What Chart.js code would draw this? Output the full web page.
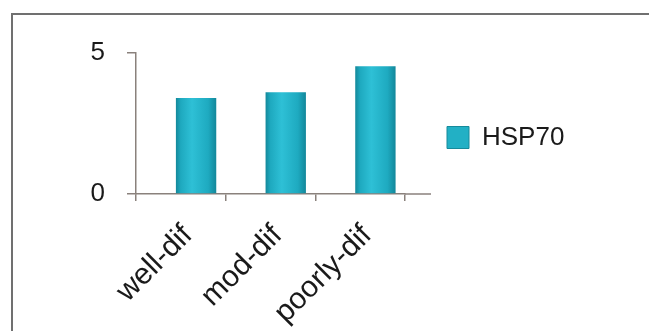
<!DOCTYPE html>
<html>
<head>
<meta charset="utf-8">
<script src="https://cdn.jsdelivr.net/npm/chart.js@4/dist/chart.umd.min.js"></script>
<style>
  html, body { margin: 0; padding: 0; background: #ffffff; }
  #wrap { position: relative; width: 649px; height: 331px; overflow: hidden; }
  #frame { position: absolute; left: 11px; top: 13px; width: 660px; height: 340px;
           border-top: 2px solid #707070; border-left: 2px solid #707070; }
  canvas { position: absolute; left: 0; top: 0; }
</style>
</head>
<body>
<div id="wrap">
  <div id="frame"></div>
  <canvas id="c" width="649" height="331"></canvas>
</div>
<script>
const categories = ['well-dif', 'mod-dif', 'poorly-dif'];
const seriesName = 'HSP70';
const hsp70Values = [3.40, 3.61, 4.53];
const yTickValues = [0, 5];

const axisColor = '#8a817c';
const fontFamily = '"Liberation Sans", Arial, sans-serif';
const barShiftFraction = 0.17; // bars sit right of the category centre in the original

const barShade = {
  id: 'barShade',
  beforeDatasetsDraw(chart) {
    const ctx = chart.ctx;
    const xs = chart.scales.x;
    const dx = barShiftFraction * xs.width / categories.length;
    ctx.save();
    ctx.translate(dx, 0);
    chart.getDatasetMeta(0).data.forEach(el => {
      const x0 = el.x - el.width / 2;
      const g = ctx.createLinearGradient(x0, 0, x0 + el.width, 0);
      g.addColorStop(0, '#13889a');
      g.addColorStop(0.12, '#1ea9bf');
      g.addColorStop(0.4, '#2ec0d6');
      g.addColorStop(0.8, '#1eaac0');
      g.addColorStop(1, '#13879a');
      el.options = Object.assign({}, el.options, { backgroundColor: g });
    });
  },
  afterDatasetsDraw(chart) {
    chart.ctx.restore();
  }
};

const axisExtend = {
  id: 'axisExtend',
  afterDraw(chart) {
    const a = chart.chartArea, ctx = chart.ctx;
    ctx.save();
    ctx.strokeStyle = axisColor;
    ctx.lineWidth = 1.5;
    ctx.beginPath();
    ctx.moveTo(a.right, a.bottom);
    ctx.lineTo(a.right + 26, a.bottom);
    ctx.stroke();
    ctx.restore();
  }
};

const legendShift = {
  id: 'legendShift',
  afterLayout(chart) {
    const lg = chart.legend;
    if (!lg) return;
    const dx = 447 - (lg.left + 10);
    const dy = 14;
    lg.left += dx; lg.right += dx;
    lg.top += dy; lg.bottom += dy;
  }
};

new Chart(document.getElementById('c'), {
  type: 'bar',
  data: {
    labels: categories,
    datasets: [{
      label: seriesName,
      data: hsp70Values,
      backgroundColor: '#22b0c5',
      borderColor: '#168a9b',
      borderWidth: 0,
      barPercentage: 0.45,
      categoryPercentage: 1.0
    }]
  },
  options: {
    responsive: false,
    animation: false,
    events: [],
    layout: { padding: { left: 0, top: 53, right: 109, bottom: 0 } },
    plugins: {
      tooltip: { enabled: false },
      legend: {
        position: 'right',
        fullSize: false,
        labels: {
          boxWidth: 22,
          boxHeight: 22,
          color: '#1a1a1a',
          font: { family: fontFamily, size: 26 },
          generateLabels(chart) {
            return [{
              text: seriesName,
              fillStyle: '#22b0c5',
              strokeStyle: '#168a9b',
              lineWidth: 1,
              datasetIndex: 0,
              fontColor: '#1a1a1a'
            }];
          }
        }
      }
    },
    scales: {
      x: {
        offset: true,
        afterFit(scale) { scale.height = 137; },
        border: { display: true, color: axisColor, width: 1.5 },
        grid: { display: true, offset: true, drawOnChartArea: false, drawTicks: true, tickLength: 7, color: axisColor, lineWidth: 1.5 },
        ticks: {
          color: '#1a1a1a',
          font: { family: fontFamily, size: 30 },
          minRotation: 45,
          maxRotation: 45,
          autoSkip: false,
          padding: 17,
          labelOffset: 7
        }
      },
      y: {
        min: 0,
        max: 5,
        afterFit(scale) { scale.width = 136; },
        afterBuildTicks(scale) { scale.ticks = yTickValues.map(v => ({ value: v })); },
        border: { display: true, color: axisColor, width: 1.5 },
        grid: { display: true, drawOnChartArea: false, drawTicks: true, tickLength: 9, color: axisColor, lineWidth: 1.5 },
        ticks: {
          color: '#1a1a1a',
          font: { family: fontFamily, size: 26 },
          padding: 22
        }
      }
    }
  },
  plugins: [barShade, axisExtend, legendShift]
});
</script>
</body>
</html>
